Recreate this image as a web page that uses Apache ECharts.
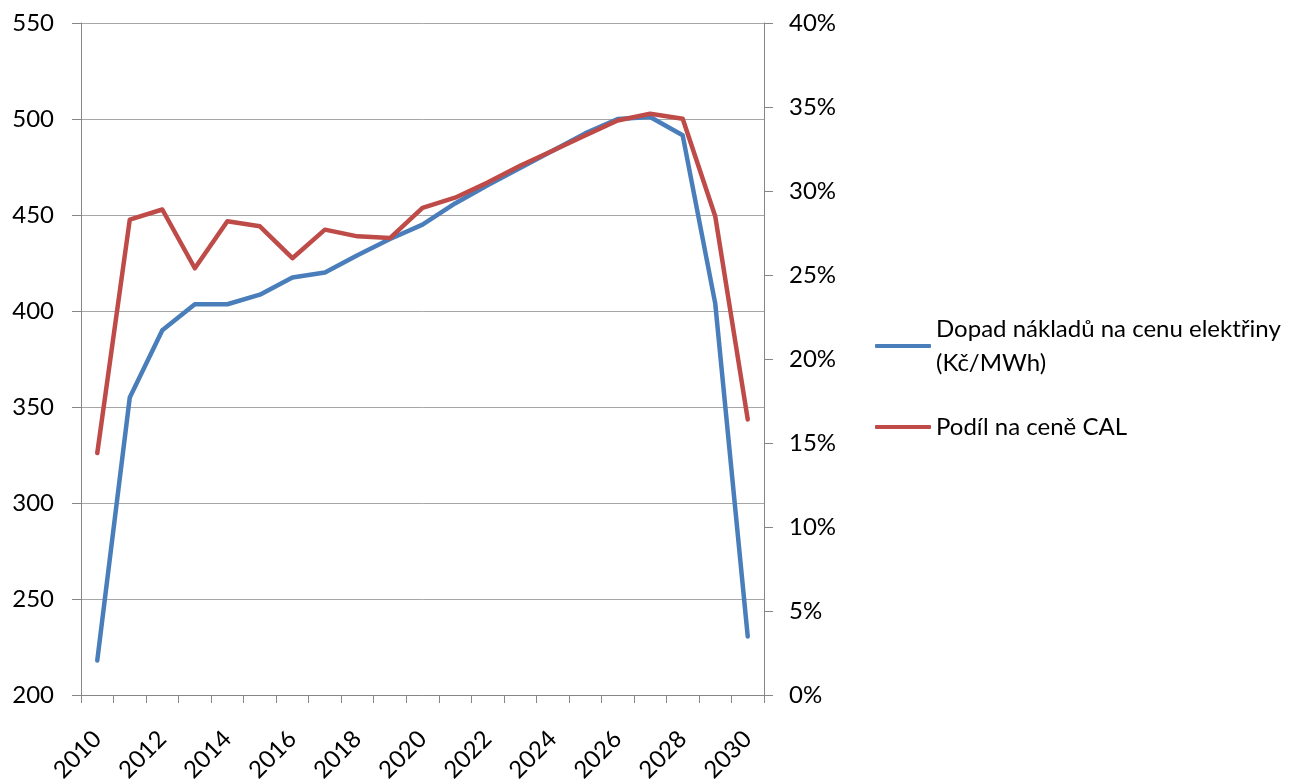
<!DOCTYPE html>
<html>
<head>
<meta charset="utf-8">
<script src="https://cdn.jsdelivr.net/npm/echarts@6/dist/echarts.min.js"></script>
<style>
  html, body { margin: 0; padding: 0; background: #fff; }
  #chart { width: 1295px; height: 779px; }
</style>
</head>
<body>
<div id="chart"></div>
<script>
// data
const years = ['2010', '2011', '2012', '2013', '2014', '2015', '2016', '2017', '2018', '2019', '2020',
  '2021', '2022', '2023', '2024', '2025', '2026', '2027', '2028', '2029', '2030'];
const costImpact = [218, 355, 390, 403.5, 403.5, 408.5, 417.5, 420, 429, 437.5, 445,
  456, 465.5, 474.5, 483.5, 492.5, 500, 501, 491.5, 404, 230.5];
const calShare = [14.4, 28.3, 28.9, 25.4, 28.2, 27.9, 26.0, 27.7, 27.3, 27.2, 29.0,
  29.6, 30.5, 31.5, 32.4, 33.3, 34.2, 34.6, 34.3, 28.5, 16.4];
const seriesNames = ['Dopad nákladů na cenu elektřiny\n(Kč/MWh)', 'Podíl na ceně CAL'];
const leftAxisRange = [200, 550, 50];
const rightAxisRange = [0, 40, 5];

const font = 'Lato';
const axisGray = '#868686';

const chart = echarts.init(document.getElementById('chart'));

const legendBase = {
  orient: 'vertical',
  left: 875,
  padding: 0,
  itemWidth: 56,
  itemHeight: 4,
  icon: 'roundRect',
  selectedMode: false,
  textStyle: { fontFamily: font, fontSize: 24, color: '#000', lineHeight: 34 }
};

chart.setOption({
  animation: false,
  backgroundColor: '#fff',
  grid: { left: 81, right: 531, top: 23, bottom: 84, containLabel: false, outerBoundsMode: 'none' },
  legend: [
    Object.assign({}, legendBase, {
      data: [seriesNames[0]],
      top: 295,
      textStyle: Object.assign({}, legendBase.textStyle, { padding: [34, 0, 0, 0] })
    }),
    Object.assign({}, legendBase, { data: [seriesNames[1]], top: 410 })
  ],
  xAxis: {
    type: 'category',
    data: years,
    boundaryGap: true,
    axisLine: { lineStyle: { color: axisGray, width: 1 } },
    axisTick: { show: true, interval: 0, length: 8, lineStyle: { color: axisGray } },
    axisLabel: {
      interval: 1,
      rotate: 45,
      margin: 40,
      fontFamily: font,
      fontSize: 24,
      color: '#000'
    }
  },
  yAxis: [
    {
      type: 'value',
      min: leftAxisRange[0],
      max: leftAxisRange[1],
      interval: leftAxisRange[2],
      axisLine: { show: true, lineStyle: { color: axisGray } },
      axisTick: { show: true, length: 9, lineStyle: { color: axisGray } },
      splitLine: { show: true, lineStyle: { color: '#a6a6a6', width: 1 } },
      axisLabel: { margin: 27, fontFamily: font, fontSize: 24, color: '#000' }
    },
    {
      type: 'value',
      position: 'right',
      min: rightAxisRange[0],
      max: rightAxisRange[1],
      interval: rightAxisRange[2],
      axisLine: { show: true, lineStyle: { color: axisGray } },
      axisTick: { show: true, length: 9, lineStyle: { color: axisGray } },
      splitLine: { show: false },
      axisLabel: { margin: 25, formatter: '{value}%', fontFamily: font, fontSize: 24, color: '#000' }
    }
  ],
  series: [
    {
      name: seriesNames[0],
      type: 'line',
      yAxisIndex: 0,
      data: costImpact,
      symbol: 'none',
      lineStyle: { color: '#4a7ebb', width: 4.5, cap: 'round', join: 'round' },
      itemStyle: { color: '#4a7ebb' }
    },
    {
      name: seriesNames[1],
      type: 'line',
      yAxisIndex: 1,
      data: calShare,
      symbol: 'none',
      lineStyle: { color: '#be4b48', width: 4.5, cap: 'round', join: 'round' },
      itemStyle: { color: '#be4b48' }
    }
  ]
});
</script>
</body>
</html>
